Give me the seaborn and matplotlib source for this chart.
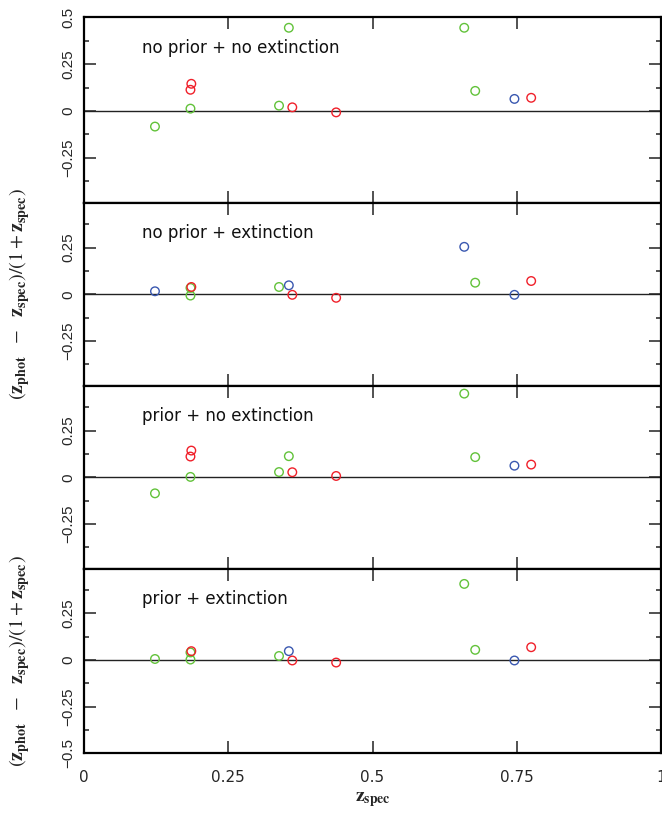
import numpy as np
import pandas as pd
import matplotlib
matplotlib.use("Agg")
import matplotlib.pyplot as plt
from matplotlib.ticker import MultipleLocator, FuncFormatter
import seaborn as sns

# ---- data -------------------------------------------------------------
z_spec = [0.123, 0.1845, 0.186, 0.1845, 0.338, 0.355, 0.361, 0.437, 0.659, 0.678, 0.746, 0.775]

panel_titles = ["no prior + no extinction", "no prior + extinction",
                "prior + no extinction", "prior + extinction"]

dz_p1 = [-0.084, 0.012, 0.145, 0.113, 0.028, 0.445, 0.019, -0.008, 0.445, 0.107, 0.064, 0.070]
col_p1 = ["g", "g", "r", "r", "g", "g", "r", "r", "g", "g", "b", "r"]

dz_p2 = [0.016, -0.007, 0.039, 0.034, 0.039, 0.048, -0.003, -0.019, 0.254, 0.062, -0.003, 0.071]
col_p2 = ["b", "g", "r", "g", "g", "b", "r", "r", "b", "g", "b", "r"]

dz_p3 = [-0.086, 0.002, 0.143, 0.111, 0.028, 0.113, 0.027, 0.007, 0.448, 0.108, 0.062, 0.068]
col_p3 = ["g", "g", "r", "r", "g", "g", "r", "r", "g", "g", "b", "r"]

dz_p4 = [0.005, 0.002, 0.047, 0.040, 0.021, 0.047, -0.003, -0.014, 0.407, 0.054, -0.003, 0.068]
col_p4 = ["g", "g", "r", "g", "g", "b", "r", "r", "g", "g", "b", "r"]

x_ticks = [0, 0.25, 0.5, 0.75, 1]
x_ticklabels = ["0", "0.25", "0.5", "0.75", "1"]

palette = {"g": "#62C23A", "b": "#3A58B0", "r": "#F0202A"}
draw_order = {"g": 0, "b": 1, "r": 2}

# ---- figure -------------------------------------------------------------
sns.set_style("ticks")
plt.rcParams["font.family"] = ["DejaVu Sans"]
plt.rcParams["mathtext.fontset"] = "stix"

fig = plt.figure(figsize=(6.62, 8.13), dpi=100)
ylims = [(-0.492, 0.5), (-0.49, 0.49), (-0.49, 0.49), (-0.5, 0.488)]
gs = fig.add_gridspec(4, 1, left=84 / 662, right=661 / 662,
                      top=1 - 17.5 / 813, bottom=1 - 753.3 / 813, hspace=0,
                      height_ratios=[lo_hi[1] - lo_hi[0] for lo_hi in ylims])

panels = [(dz_p1, col_p1), (dz_p2, col_p2), (dz_p3, col_p3), (dz_p4, col_p4)]

def fmt(v, pos):
    if abs(v) < 1e-9:
        return "0"
    s = ("%.2f" % v).rstrip("0")
    return s.replace("-", "\u2212")

ylabel = r"$(\mathbf{z_{phot}}\ \ -\ \ \mathbf{z_{spec}})/(1+\mathbf{z_{spec}})$"

for i, (dz, cols) in enumerate(panels):
    ax = fig.add_subplot(gs[i])
    df = pd.DataFrame({"z_spec": z_spec, "dz": dz, "c": cols})
    df["o"] = df["c"].map(draw_order)
    df = df.sort_values("o", kind="stable")
    ax.axhline(0, color="#222222", lw=1.0, zorder=1)
    sns.scatterplot(data=df, x="z_spec", y="dz", hue="c", palette=palette,
                    s=38, linewidth=1.0, marker="o", legend=False, ax=ax, zorder=3)
    coll = ax.collections[-1]
    fc = coll.get_facecolors()
    coll.set_edgecolors(fc)
    coll.set_facecolors("none")

    ax.set_xlim(0, 1)
    ax.set_ylim(*ylims[i])
    ax.set_xticks(x_ticks)
    ax.yaxis.set_major_locator(MultipleLocator(0.25))
    ax.yaxis.set_minor_locator(MultipleLocator(0.125))
    ax.yaxis.set_major_formatter(FuncFormatter(fmt))
    ax.tick_params(axis="both", which="major", direction="in", length=8.5,
                   width=1.1, top=True, right=True, color="#222222")
    ax.tick_params(axis="y", which="minor", direction="in", length=3.8,
                   width=1.1, left=True, right=True, color="#222222")
    ax.tick_params(axis="y", labelrotation=90, labelsize=11, pad=6)
    for lab in ax.get_yticklabels():
        lab.set_fontfamily("Liberation Sans")
        lab.set_va("center")
    for sp in ax.spines.values():
        sp.set_linewidth(1.6)
        sp.set_color("black")

    if i < 3:
        ax.tick_params(axis="x", labelbottom=False)
        ax.set_xlabel("")
    else:
        ax.set_xticklabels(x_ticklabels)
        ax.tick_params(axis="x", labelsize=11, pad=12)
        ax.set_xlabel(r"$\mathbf{z_{spec}}$", fontsize=14)
        ax.xaxis.set_label_coords(0.5, -0.20)

    if i in (1, 3):
        ax.set_ylabel(ylabel, fontsize=14.5)
        ax.yaxis.set_label_coords(-0.090, 0.5)
    else:
        ax.set_ylabel("")

    ax.text(0.10, 0.834, panel_titles[i], transform=ax.transAxes,
            fontsize=12, va="center", ha="left", color="#111111")

fig.savefig("out.png", dpi=100)
